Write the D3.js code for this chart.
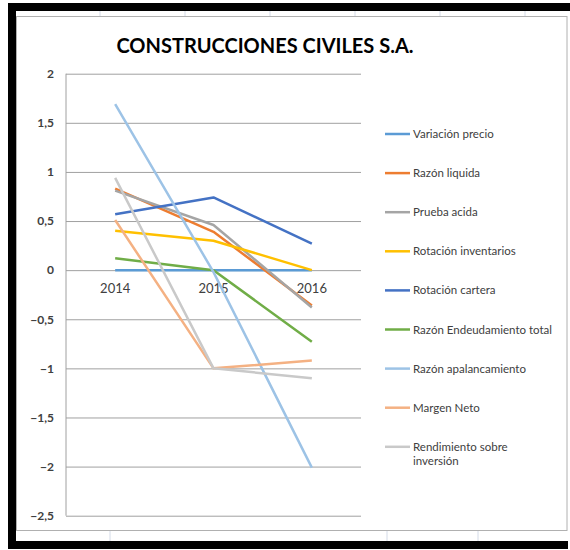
<!DOCTYPE html>
<html>
<head>
<meta charset="utf-8">
<script src="https://cdn.jsdelivr.net/npm/d3@7"></script>
<style>
  body { margin: 0; background: #fff; }
  text { font-family: Lato, "Liberation Sans", sans-serif; }
</style>
</head>
<body>
<div id="chart"></div>
<script>
// data
const years = ["2014", "2015", "2016"];
const seriesNames = [
  "Variación precio", "Razón liquida", "Prueba acida", "Rotación inventarios",
  "Rotación cartera", "Razón Endeudamiento total", "Razón apalancamiento",
  "Margen Neto", "Rendimiento sobre inversión"
];
const variacionPrecio = [0, 0, 0];
const razonLiquida = [0.83, 0.39, -0.36];
const pruebaAcida = [0.81, 0.46, -0.38];
const rotacionInventarios = [0.40, 0.30, 0];
const rotacionCartera = [0.57, 0.74, 0.27];
const razonEndeudamiento = [0.12, 0, -0.73];
const razonApalancamiento = [1.69, -0.02, -2.01];
const margenNeto = [0.51, -1.0, -0.92];
const rendimientoInversion = [0.94, -1.0, -1.10];
const yTicks = [2, 1.5, 1, 0.5, 0, -0.5, -1, -1.5, -2, -2.5];
const colors = ["#5b9bd5", "#ed7d31", "#a5a5a5", "#ffc000", "#4472c4",
                "#70ad47", "#9dc3e6", "#f4b183", "#c9c9c9"];

const values = [variacionPrecio, razonLiquida, pruebaAcida, rotacionInventarios,
  rotacionCartera, razonEndeudamiento, razonApalancamiento, margenNeto, rendimientoInversion];
const series = seriesNames.map((name, i) => ({name: name, color: colors[i],
  points: years.map((yr, j) => ({year: yr, value: values[i][j]}))}));

const W = 570, H = 550;
const svg = d3.select("#chart").append("svg")
    .attr("width", W).attr("height", H);

// spreadsheet background round the chart
svg.append("rect").attr("x", 0).attr("y", 0).attr("width", W).attr("height", H).attr("fill", "#fff");
[100, 185, 270, 355, 440, 525].forEach(x => {
  svg.append("line").attr("x1", x).attr("x2", x).attr("y1", 11).attr("y2", 16)
    .attr("stroke", "#d4dbe8");
});
[110, 387, 478].forEach(x => {
  svg.append("line").attr("x1", x).attr("x2", x).attr("y1", 531).attr("y2", 541)
    .attr("stroke", "#d4dbe8");
});
// black frame
svg.append("rect").attr("x", 8).attr("y", 3).attr("width", W - 8).attr("height", 8).attr("fill", "#000");
svg.append("rect").attr("x", 8).attr("y", 3).attr("width", 8).attr("height", 546).attr("fill", "#000");
svg.append("rect").attr("x", 8).attr("y", 541).attr("width", 560).attr("height", 8).attr("fill", "#000");
// chart area border
svg.append("rect").attr("x", 16.5).attr("y", 16.5).attr("width", 550.5).attr("height", 514)
  .attr("fill", "#fff").attr("stroke", "#b0b0b0");

// title
svg.append("text").attr("x", 265).attr("y", 53)
  .attr("text-anchor", "middle")
  .style("font-size", "20px").style("font-weight", "bold")
  .text("CONSTRUCCIONES CIVILES S.A.");

// scales
const plot = {left: 66, right: 361, top: 73.7, bottom: 515.7};
const x = d3.scaleBand().domain(years).range([plot.left, plot.right]).padding(0);
const y = d3.scaleLinear().domain([-2.5, 2]).range([plot.bottom, plot.top]);
const fmt = d3.formatLocale({decimal: ",", thousands: ".", grouping: [3], currency: ["", ""]}).format("~g");

// gridlines
svg.append("g")
    .attr("transform", `translate(${plot.left},0)`)
    .call(d3.axisLeft(y).tickValues(yTicks).tickSize(-(plot.right - plot.left)).tickFormat(""))
    .call(g => g.selectAll(".tick line").attr("stroke", "#a0a0a0"))
    .call(g => g.select(".domain").remove());
svg.append("line").attr("x1", plot.left).attr("x2", plot.left)
  .attr("y1", plot.top).attr("y2", plot.bottom).attr("stroke", "#a0a0a0");

// y labels
svg.append("g")
    .attr("transform", `translate(${plot.left},0)`)
    .call(d3.axisLeft(y).tickValues(yTicks).tickSize(0).tickPadding(12).tickFormat(fmt))
    .call(g => g.select(".domain").remove())
    .selectAll("text")
      .attr("fill", "#404040")
      .style("font-size", "12px").style("font-weight", "bold")
      .style("font-family", "Lato, sans-serif");

// category labels sit under the zero line
svg.append("g")
    .attr("transform", `translate(0,${y(0)})`)
    .call(d3.axisBottom(x).tickSize(0).tickPadding(14))
    .call(g => g.select(".domain").remove())
    .selectAll("text")
      .attr("fill", "#404040")
      .style("font-size", "13px")
      .style("font-family", "Lato, sans-serif");

// lines
const line = d3.line()
    .x(d => x(d.year) + x.bandwidth() / 2)
    .y(d => y(d.value));
svg.selectAll(".serie")
  .data(series)
  .join("path")
    .attr("class", "serie")
    .attr("fill", "none")
    .attr("stroke", d => d.color)
    .attr("stroke-width", 2.5)
    .attr("stroke-linejoin", "round")
    .attr("d", d => line(d.points));

// legend
const legend = svg.append("g");
series.forEach((s, i) => {
  const ly = 134 + i * 39.1;
  legend.append("line").attr("x1", 385).attr("x2", 410).attr("y1", ly).attr("y2", ly)
    .attr("stroke", s.color).attr("stroke-width", 2.5);
  const t = legend.append("text").attr("x", 413).attr("y", ly + 4)
    .attr("fill", "#404040").style("font-size", "11.5px");
  if (s.name === "Rendimiento sobre inversión") {
    t.append("tspan").attr("x", 413).text("Rendimiento sobre");
    t.append("tspan").attr("x", 413).attr("dy", 14.5).text("inversión");
  } else {
    t.text(s.name);
  }
});
</script>
</body>
</html>
